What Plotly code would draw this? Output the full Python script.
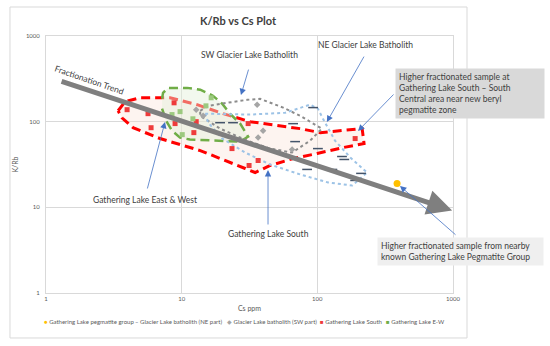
import math
import plotly.graph_objects as go

# ---------------- data ----------------
x_ticks = [1, 10, 100, 1000]
x_ticktext = ["1", "10", "100", "1000"]
y_ticks = [1, 10, 100, 1000]
y_ticktext = ["1", "10", "100", "1000"]

peg_cs = [387]
peg_krb = [19.0]

ne_cs = [19.2, 23.9, 66.3, 93.1, 68.6, 101, 152, 158, 84.1, 129, 190, 210]
ne_krb = [97.3, 97.3, 94.8, 146, 58.5, 48.5, 39.2, 36.2, 27.7, 27.7, 20.6, 24.9]

sw_cs = [12.8, 14.4, 36.0, 39.8, 36.6, 65.2]
sw_krb = [138, 117, 158, 78.6, 65.2, 47.3]

gls_cs = [3.96, 5.65, 8.79, 5.95, 8.94, 12.8, 12.3, 23.5, 30.9, 36.6, 31.4, 190]
gls_krb = [138, 124, 166, 85, 95, 100, 74.5, 48.5, 95, 35.2, 30.8, 63.5]

glew_cs = [16.5, 15.1, 9.73, 8.49, 12.1, 10.1]
glew_krb = [190, 153, 131, 121, 108, 70.6]

# outlined fields (Cs, K/Rb vertices)
gls_poly_cs = [3.40, 3.83, 4.93, 8.21, 13.0, 20.2, 31.9, 74.7, 105, 214, 221, 155, 99.7, 66.3, 44.9, 34.8, 29.4, 13.7, 6.93, 4.38, 3.63, 3.40]
gls_poly_krb = [134, 171, 190, 190, 158, 124, 100, 82.9, 74.5, 82.9, 55.5, 49.9, 42.5, 37.1, 30.8, 25.5, 28.4, 46.0, 63.5, 85.1, 111, 134]

glew_poly_cs = [7.17, 7.29, 7.94, 10.96, 13.7, 17.0, 19.9, 22.7, 27.0, 30.9, 27.0, 15.7, 11.5, 9.73, 8.49, 7.67, 7.17]
glew_poly_krb = [185, 217, 248, 248, 236, 201, 162, 124, 95, 66.9, 58.5, 60.1, 61.8, 65.2, 78.6, 103, 142]

sw_poly_cs = [13.7, 15.7, 21.6, 30.4, 37.8, 56.0, 74.7, 108, 88.5, 65.2, 44.9, 30.4, 19.2, 13.7, 13.7]
sw_poly_krb = [134, 153, 166, 180, 185, 146, 117, 82.9, 60.1, 43.6, 48.5, 60.1, 82.9, 117, 134]

ne_poly_cs = [14.9, 31.9, 57.9, 88.5, 101, 110, 135, 175, 233, 181, 120, 74.7, 44.9, 29.4, 19.9, 15.7, 14.9]
ne_poly_krb = [124, 121, 127, 158, 142, 108, 60.1, 38.2, 25.5, 18.0, 19.5, 24.2, 31.6, 43.6, 63.5, 97.3, 124]

trend_cs = [1.27, 986]
trend_krb = [300, 9.2]

FONT = "Lato"
TXT = "#404040"

fig = go.Figure()

# fields
fig.add_trace(go.Scatter(x=gls_poly_cs, y=gls_poly_krb, mode="lines", fill="toself",
                         fillcolor="rgba(250,220,205,0.3)",
                         line=dict(color="#ff0000", width=3, dash="9px,5px"), hoverinfo="skip"))
fig.add_trace(go.Scatter(x=glew_poly_cs, y=glew_poly_krb, mode="lines", fill="toself",
                         fillcolor="rgba(226,239,218,0.45)",
                         line=dict(color="#70ad47", width=2.5, dash="9px,5px"), hoverinfo="skip"))
fig.add_trace(go.Scatter(x=sw_poly_cs, y=sw_poly_krb, mode="lines",
                         line=dict(color="#8c8c8c", width=2, dash="dot"), hoverinfo="skip"))
fig.add_trace(go.Scatter(x=ne_poly_cs, y=ne_poly_krb, mode="lines",
                         line=dict(color="#9dc3e6", width=2, dash="dot"), hoverinfo="skip"))

# samples
fig.add_trace(go.Scatter(x=peg_cs, y=peg_krb, mode="markers", name="Gathering Lake pegmatite group",
                         marker=dict(symbol="circle", size=7, color="#ffc000")))
fig.add_trace(go.Scatter(x=ne_cs, y=ne_krb, mode="markers", name="Glacier Lake batholith (NE part)",
                         marker=dict(symbol="line-ew", size=7, color="#44546a",
                                     line=dict(width=1.5, color="#44546a"))))
fig.add_trace(go.Scatter(x=sw_cs, y=sw_krb, mode="markers", name="Glacier Lake batholith (SW part)",
                         marker=dict(symbol="diamond", size=5, color="#a5a5a5")))
fig.add_trace(go.Scatter(x=gls_cs, y=gls_krb, mode="markers", name="Gathering Lake South",
                         marker=dict(symbol="square", size=5, color="#ee3b3b")))
fig.add_trace(go.Scatter(x=glew_cs, y=glew_krb, mode="markers", name="Gathering Lake E-W",
                         marker=dict(symbol="square", size=5, color="#9cc97f")))

ann = []
# fractionation trend arrow
ann.append(dict(x=math.log10(trend_cs[1]), y=math.log10(trend_krb[1]), xref="x", yref="y",
                ax=math.log10(trend_cs[0]), ay=math.log10(trend_krb[0]), axref="x", ayref="y",
                text="", showarrow=True, arrowhead=2, arrowsize=1, arrowwidth=5,
                arrowcolor="#7f7f7f"))
ann.append(dict(x=0.1057, y=0.829, xref="paper", yref="paper", xanchor="center", yanchor="middle",
                text="Fractionation Trend", showarrow=False, textangle=19,
                font=dict(size=8.5, color=TXT, family=FONT)))

def label(x, y, text):
    ann.append(dict(x=x, y=y, xref="paper", yref="paper", xanchor="center", yanchor="middle",
                    text=text, showarrow=False, font=dict(size=8.5, color=TXT, family=FONT)))

def pointer(x, y, ax, ay):
    ann.append(dict(x=x, y=y, xref="paper", yref="paper", ax=ax, ay=ay, text="",
                    showarrow=True, arrowhead=2, arrowsize=1.6, arrowwidth=0.8,
                    arrowcolor="#4472c4"))

label(0.499, 0.926, "SW Glacier Lake Batholith")
pointer(0.479, 0.770, 8, -27)
label(0.784, 0.965, "NE Glacier Lake Batholith")
pointer(0.690, 0.665, 38, -67)
label(0.2432, 0.362, "Gathering Lake East &amp; West")
pointer(0.2924, 0.6654, -18, 68)
label(0.5455, 0.2296, "Gathering Lake South")
pointer(0.5455, 0.4786, 0, 56)

ann.append(dict(x=0.8575, y=0.8755, xref="paper", yref="paper", xanchor="left", yanchor="top",
                align="left", showarrow=False, bgcolor="#d9d9d9", borderpad=3, width=142,
                text="Higher fractionated sample at<br>Gathering Lake South – South<br>Central area near new beryl<br>pegmatite zone",
                font=dict(size=8.5, color=TXT, family=FONT)))
pointer(0.7666, 0.6304, 37, -38)

ann.append(dict(x=0.8133, y=0.2179, xref="paper", yref="paper", xanchor="left", yanchor="top",
                align="left", showarrow=False, bgcolor="#efefef", borderpad=3, width=159,
                text="Higher fractionated sample from nearby<br>known Gathering Lake Pegmatite Group",
                font=dict(size=8.5, color=TXT, family=FONT)))
pointer(0.8698, 0.4163, 57, 50)

# legend (drawn as text entries)
legend_items = [
    ("●", "#ffc000", "Gathering Lake pegmatite group", 42),
    ("–", "#44546a", "Glacier Lake batholith (NE part)", 133),
    ("◆", "#a5a5a5", "Glacier Lake batholith (SW part)", 225),
    ("■", "#ee3b3b", "Gathering Lake South", 318),
    ("■", "#70ad47", "Gathering Lake E-W", 384),
]
for sym, col, name, px in legend_items:
    ann.append(dict(x=(px - 46) / 407, y=-0.109, xref="paper", yref="paper", xanchor="left",
                    yanchor="middle", showarrow=False,
                    text=f"<span style='color:{col}'>{sym}</span> {name}",
                    font=dict(size=6, color="#595959", family=FONT)))

fig.update_layout(
    width=550, height=346,
    margin=dict(l=46, r=97, t=36, b=53),
    paper_bgcolor="white", plot_bgcolor="white",
    showlegend=False,
    font=dict(family=FONT, color="#595959"),
    title=dict(text="<b>K/Rb vs Cs Plot</b>", x=238 / 550, xanchor="center",
               y=1 - 21 / 346, yanchor="middle", font=dict(size=11, color=TXT, family=FONT)),
    annotations=ann,
    shapes=[dict(type="rect", xref="paper", yref="paper", x0=-0.0885, x1=1.0344,
                 y0=-0.175, y1=1.1128, line=dict(color="#d9d9d9", width=1), layer="below")],
)
fig.update_xaxes(type="log", range=[0, 3], tickvals=x_ticks, ticktext=x_ticktext,
                 showgrid=True, gridcolor="#d9d9d9", showline=True, linecolor="#d9d9d9",
                 mirror=True, zeroline=False, ticks="", tickfont=dict(size=6, color="#595959"),
                 title=dict(text="Cs ppm", font=dict(size=7, color="#595959"), standoff=4))
fig.update_yaxes(type="log", range=[0, 3], tickvals=y_ticks, ticktext=y_ticktext,
                 showgrid=True, gridcolor="#d9d9d9", showline=True, linecolor="#d9d9d9",
                 mirror=True, zeroline=False, ticks="", tickfont=dict(size=6, color="#595959"),
                 ticklabelstandoff=4,
                 title=dict(text="K/Rb", font=dict(size=7, color="#595959"), standoff=6))

fig.write_html("out.html")
